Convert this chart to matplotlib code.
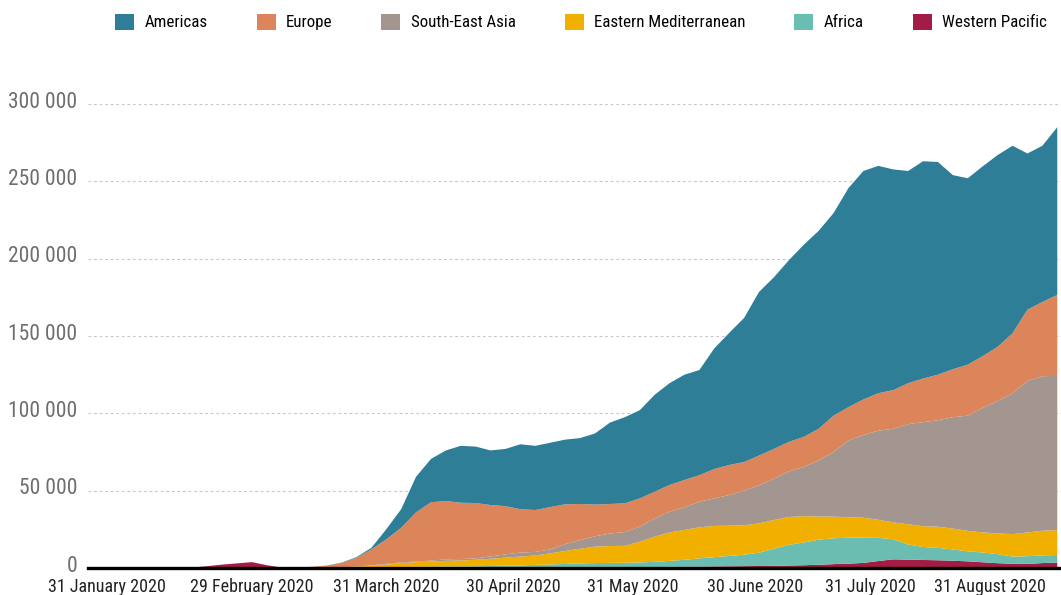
import matplotlib
matplotlib.use("Agg")
import matplotlib.pyplot as plt
import matplotlib.transforms as mtransforms
from matplotlib import font_manager
from matplotlib.patches import Patch
from matplotlib.ticker import FuncFormatter
import numpy as np

# pick a narrow sans font if there is one
available = {f.name for f in font_manager.fontManager.ttflist}
font = "DejaVu Sans"
for name in ["Liberation Sans Narrow", "Roboto Condensed", "Arial Narrow"]:
    if name in available:
        font = name
        break
plt.rcParams["font.family"] = [font, "DejaVu Sans"]

# daily new cases in thousands, one reading every 4 days (day 0 = 3 January 2020)
days = np.arange(0, 261, 4)

western_pacific = [0, 0, 0, 0, 0, 0, 0,
                   0.3, 1.2, 2.2, 3.0, 3.8, 1.8, 0.3, 0.2, 0.3,
                   0.3, 0.3, 0.3, 0.4, 0.4, 0.5, 0.5, 0.5, 0.5, 0.5,
                   0.5, 0.5, 0.5, 0.5, 0.5, 0.5, 0.5, 0.5, 0.5, 0.5,
                   0.5, 0.6, 0.6, 0.7, 0.7, 0.8, 1.0, 1.1, 1.2, 1.3,
                   1.4, 1.6, 1.8, 2.1, 2.5, 2.8, 3.3, 4.5, 5.6, 5.4,
                   5.2, 5.0, 4.7, 4.3, 3.7, 3.1, 2.8, 2.6, 3.2, 3.5]
africa = [0] * 16 + [
    0, 0, 0.1, 0.1, 0.2, 0.2, 0.3, 0.4, 0.5, 0.5,
    0.6, 0.8, 1.0, 1.2, 1.5, 1.8, 2.1, 2.5, 2.7, 2.8,
    2.9, 3.0, 3.4, 3.9, 4.6, 5.4, 6.0, 6.7, 7.4, 8.6,
    11.1, 13.4, 14.7, 16.2, 16.7, 16.8, 16.3, 15.0, 13.0, 9.8,
    8.4, 8.0, 7.3, 6.5, 6.3, 5.9, 4.6, 5.0, 5.0, 4.9]
eastern_med = [0] * 16 + [
    0.1, 0.2, 0.4, 1.0, 1.6, 2.5, 3.0, 3.3, 3.6, 3.9,
    4.2, 4.7, 5.2, 5.7, 6.1, 7.2, 8.4, 9.5, 10.6, 10.9,
    10.9, 13.4, 16.2, 18.4, 19.3, 20.1, 20.2, 19.6, 19.0, 19.0,
    18.5, 18.0, 17.0, 15.0, 14.0, 13.2, 12.9, 11.7, 10.9, 13.1,
    13.4, 13.7, 13.5, 13.2, 13.0, 13.4, 14.5, 15.4, 15.9, 16.1]
se_asia = [0] * 16 + [
    0, 0, 0.1, 0.2, 0.5, 0.4, 0.4, 0.6, 1.0, 0.9,
    0.9, 1.5, 2.1, 2.6, 2.3, 2.5, 4.5, 5.5, 6.7, 8.1,
    8.9, 9.7, 11.8, 13.4, 14.6, 16.6, 17.8, 19.8, 22.4, 24.6,
    26.7, 29.5, 31.8, 36.3, 41.8, 49.7, 53.5, 57.6, 60.5, 64.7,
    67.3, 68.8, 72.0, 74.5, 80.5, 85.6, 91.1, 98.0, 99.9, 99.7]
europe = [0] * 14 + [0.2, 0.5,
    1.1, 2.8, 5.6, 10.3, 15.8, 22.4, 31.8, 37.7, 37.7, 36.4,
    35.8, 33.2, 31.2, 28.0, 27.1, 27.4, 25.7, 23.4, 20.5, 19.1,
    18.6, 18.3, 17.3, 17.3, 17.7, 17.1, 19.0, 19.4, 18.5, 19.2,
    19.3, 19.0, 19.5, 20.4, 23.5, 21.5, 23.0, 24.2, 25.0, 26.5,
    28.2, 29.5, 31.0, 33.0, 33.5, 35.0, 38.8, 46.0, 48.0, 52.3]
americas = [0] * 16 + [
    0.1, 0.2, 0.5, 1.0, 6.5, 12.0, 23.0, 28.0, 32.7, 36.8,
    36.5, 35.3, 37.0, 42.0, 41.5, 41.6, 41.8, 42.6, 46.0, 52.6,
    55.7, 57.0, 62.7, 65.8, 68.1, 68.0, 78.0, 85.4, 93.2, 105.8,
    111.0, 117.5, 124.2, 128.0, 131.0, 141.7, 147.7, 147.0, 142.7, 137.2,
    140.5, 137.5, 125.5, 120.5, 122.7, 124.0, 121.2, 101.0, 101.0, 108.5]

regions = ["Americas", "Europe", "South-East Asia",
           "Eastern Mediterranean", "Africa", "Western Pacific"]
colors = ["#2f7e97", "#dc855b", "#a3958f", "#f1b000", "#6bbdb1", "#a21c45"]

tick_days = [5, 44, 80, 114, 146, 179, 210, 242]
tick_labels = ["31 January 2020", "29 February 2020", "31 March 2020",
               "30 April 2020", "31 May 2020", "30 June 2020",
               "31 July 2020", "31 August 2020"]

# stack from the bottom up: Western Pacific first, Americas on top
stack = [western_pacific, africa, eastern_med, se_asia, europe, americas]
stack = [np.array(s) * 1000 for s in stack]

fig = plt.figure(figsize=(10.61, 5.95), dpi=100)
ax = fig.add_axes([88 / 1061, 27 / 595, 1 - 88 / 1061, 464 / 595])

ax.stackplot(days, *stack, colors=colors[::-1], linewidth=0, zorder=2)

ax.set_xlim(0, 261)
ax.set_ylim(0, 300000)
ax.set_yticks(np.arange(0, 300001, 50000))
ax.yaxis.set_major_formatter(FuncFormatter(lambda v, p: f"{int(v):,}".replace(",", " ")))
ax.set_xticks(tick_days)
ax.set_xticklabels(tick_labels)

ax.grid(axis="y", color="#c8c8c8", linestyle=(0, (2.5, 2.5)), linewidth=0.8, zorder=0)
ax.set_axisbelow(True)
for side in ["left", "right", "top"]:
    ax.spines[side].set_visible(False)
ax.spines["bottom"].set_linewidth(2.4)
ax.spines["bottom"].set_color("black")
ax.spines["bottom"].set_zorder(3)

ax.tick_params(axis="x", length=0, pad=7, labelsize=13, labelcolor="#222222")
ax.tick_params(axis="y", length=0, pad=7.5, labelsize=15.5, labelcolor="#6e6e6e")
shift = mtransforms.ScaledTranslation(0, 3 / 72, fig.dpi_scale_trans)
for lab in ax.get_yticklabels():
    lab.set_transform(lab.get_transform() + shift)

handles = [Patch(facecolor=c, edgecolor="none") for c in colors]
fig.legend(handles, regions, loc="center", bbox_to_anchor=(581 / 1061, 1 - 22 / 595),
           ncol=6, frameon=False, fontsize=12.2, handlelength=1.12, handleheight=1.12,
           handletextpad=0.6, columnspacing=2.9, borderpad=0.2)

fig.savefig("out.png", dpi=100)
